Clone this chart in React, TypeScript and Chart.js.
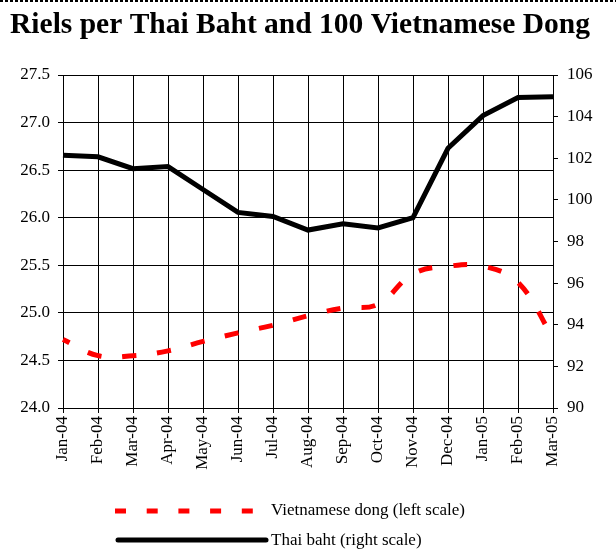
import React, { useEffect, useRef } from "react";
import { Chart, registerables } from "chart.js";

Chart.register(...registerables);

const months = ["Jan-04","Feb-04","Mar-04","Apr-04","May-04","Jun-04","Jul-04","Aug-04","Sep-04","Oct-04","Nov-04","Dec-04","Jan-05","Feb-05","Mar-05"];
const dongValues = [24.72, 24.55, 24.55, 24.6, 24.7, 24.79, 24.87, 24.97, 25.05, 25.09, 25.41, 25.49, 25.49, 25.32, 24.74];
const bahtValues = [102.15, 102.07, 101.5, 101.6, 100.5, 99.4, 99.2, 98.55, 98.85, 98.65, 99.15, 102.48, 104.05, 104.92, 104.95];
const titleText = "Riels per Thai Baht and 100 Vietnamese Dong";
const dongLabel = "Vietnamese dong (left scale)";
const bahtLabel = "Thai baht (right scale)";

const FONT = "'Liberation Serif', 'Times New Roman', serif";

const decorPlugin = {
  id: "decor",
  afterDraw(chart: any) {
    const ctx = chart.ctx;
    ctx.save();
    ctx.strokeStyle = "#000";
    ctx.lineWidth = 2;
    ctx.setLineDash([3, 2]);
    ctx.beginPath();
    ctx.moveTo(0, 1);
    ctx.lineTo(chart.width, 1);
    ctx.stroke();
    ctx.setLineDash([]);
    ctx.fillStyle = "#000";
    ctx.font = `bold 29.5px ${FONT}`;
    ctx.textAlign = "center";
    ctx.textBaseline = "alphabetic";
    ctx.fillText(titleText, 300, 33);
    ctx.strokeStyle = "#ff0000";
    ctx.lineWidth = 5;
    ctx.setLineDash([11, 20.7]);
    ctx.beginPath();
    ctx.moveTo(115, 511);
    ctx.lineTo(253, 511);
    ctx.stroke();
    ctx.setLineDash([]);
    ctx.strokeStyle = "#000";
    ctx.lineCap = "round";
    ctx.beginPath();
    ctx.moveTo(118, 540);
    ctx.lineTo(266, 540);
    ctx.stroke();
    ctx.font = `17px ${FONT}`;
    ctx.textAlign = "left";
    ctx.textBaseline = "middle";
    ctx.fillText(dongLabel, 271, 511);
    ctx.fillText(bahtLabel, 271, 541);
    ctx.restore();
  },
};

export default function App() {
  const ref = useRef<HTMLCanvasElement | null>(null);
  useEffect(() => {
    if (!ref.current) return;
    const chart = new Chart(ref.current, {
      type: "line",
      data: {
        labels: months,
        datasets: [
          {
            label: dongLabel,
            data: dongValues,
            yAxisID: "y",
            borderColor: "#ff0000",
            borderWidth: 5,
            borderDash: [14, 21],
            borderDashOffset: 7,
            tension: 0.4,
            pointRadius: 0,
            fill: false,
          },
          {
            label: bahtLabel,
            data: bahtValues,
            yAxisID: "y1",
            borderColor: "#000",
            borderWidth: 5,
            tension: 0,
            pointRadius: 0,
            fill: false,
          },
        ],
      },
      options: {
        animation: false,
        responsive: false,
        devicePixelRatio: 1,
        layout: { padding: { top: 75, left: 0, right: 0, bottom: 0 } },
        plugins: { legend: { display: false }, title: { display: false }, tooltip: { enabled: false } },
        scales: {
          x: {
            grid: { color: "#000", lineWidth: 1, tickLength: 5, offset: false },
            border: { color: "#000", width: 1 },
            ticks: {
              autoSkip: false,
              maxRotation: 90,
              minRotation: 90,
              padding: 3,
              color: "#000",
              font: { family: FONT, size: 17 },
            },
            afterFit(scale: any) { scale.height = 148; },
          },
          y: {
            position: "left",
            min: 24,
            max: 27.5,
            grid: { color: "#000", lineWidth: 1, tickLength: 5 },
            border: { color: "#000", width: 1 },
            ticks: {
              stepSize: 0.5,
              padding: 8,
              color: "#000",
              font: { family: FONT, size: 17 },
              callback: (v: any) => Number(v).toFixed(1),
            },
            afterFit(scale: any) { scale.width = 63; },
          },
          y1: {
            position: "right",
            min: 90,
            max: 106,
            grid: { drawOnChartArea: false, color: "#000", lineWidth: 1, tickLength: 5 },
            border: { color: "#000", width: 1 },
            ticks: {
              stepSize: 2,
              padding: 9,
              color: "#000",
              font: { family: FONT, size: 17 },
            },
            afterFit(scale: any) { scale.width = 63; },
          },
        },
      },
      plugins: [decorPlugin],
    });
    return () => chart.destroy();
  }, []);
  return (
    <div style={{ position: "fixed", left: 0, top: 0, width: 616, height: 556, background: "#fff" }}>
      <canvas ref={ref} width={616} height={556} style={{ display: "block" }} />
    </div>
  );
}
